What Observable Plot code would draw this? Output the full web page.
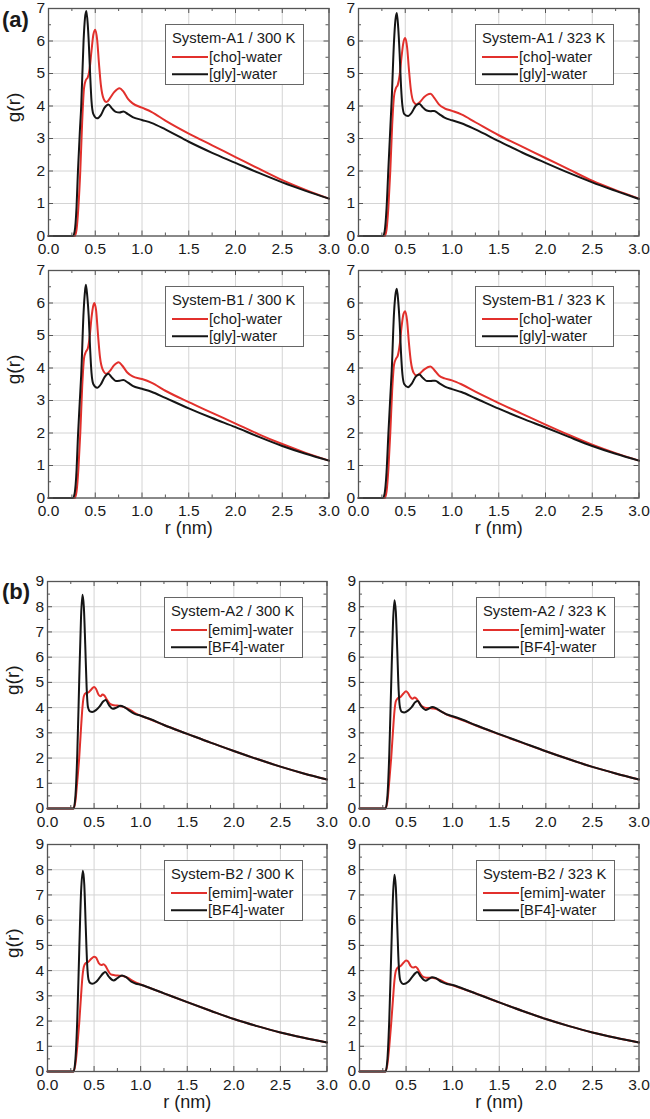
<!DOCTYPE html>
<html>
<head>
<meta charset="utf-8">
<script src="https://cdn.jsdelivr.net/npm/d3@7"></script>
<script src="https://cdn.jsdelivr.net/npm/@observablehq/plot@0.6"></script>
<style>
  html, body { margin: 0; padding: 0; background: #fff; }
  #fig { position: relative; width: 650px; height: 1119px; overflow: hidden; background: #fff;
         font-family: "Liberation Sans", Arial, sans-serif; }
  #fig svg { position: absolute; }
  .tag { position: absolute; font-weight: bold; font-size: 22px; color: #1a1a1a; line-height: 1; }
</style>
</head>
<body>
<div id="fig"></div>
<script>
// ---- axis ticks ----
const xMajor = [0, 0.5, 1.0, 1.5, 2.0, 2.5, 3.0];
const xMinor = [0.25, 0.75, 1.25, 1.75, 2.25, 2.75];
const yMajorA = [0, 1, 2, 3, 4, 5, 6, 7];
const yMinorA = [0.5, 1.5, 2.5, 3.5, 4.5, 5.5, 6.5];
const yMajorB = [0, 1, 2, 3, 4, 5, 6, 7, 8, 9];
const yMinorB = [0.5, 1.5, 2.5, 3.5, 4.5, 5.5, 6.5, 7.5, 8.5];

// ---- legend texts ----
const titles = [
  "System-A1 / 300 K", "System-A1 / 323 K", "System-B1 / 300 K", "System-B1 / 323 K",
  "System-A2 / 300 K", "System-A2 / 323 K", "System-B2 / 300 K", "System-B2 / 323 K"
];
const pairNamesA = ["[cho]-water", "[gly]-water"];
const pairNamesB = ["[emim]-water", "[BF4]-water"];

// ---- g(r) series: [r (nm), g(r)] ----
const A1_300_cho = [[0,0],[0.28,0],[0.30,0.2],[0.32,0.9],[0.34,2.0],[0.36,3.5],[0.38,4.55],[0.40,4.8],[0.42,4.88],[0.44,5.15],[0.46,5.7],[0.48,6.2],[0.50,6.35],[0.52,6.05],[0.54,5.3],[0.56,4.65],[0.59,4.22],[0.62,4.12],[0.66,4.25],[0.70,4.42],[0.76,4.55],[0.80,4.45],[0.85,4.22],[0.90,4.08],[1.0,3.95],[1.1,3.82],[1.25,3.55],[1.5,3.15],[1.75,2.79],[2.0,2.43],[2.25,2.07],[2.5,1.72],[2.75,1.42],[3.0,1.15]];
const A1_300_gly = [[0,0],[0.26,0],[0.28,0.15],[0.30,0.9],[0.315,2.0],[0.335,3.2],[0.35,4.0],[0.375,6.0],[0.39,6.7],[0.405,6.92],[0.42,6.5],[0.43,6.0],[0.445,5.0],[0.46,4.15],[0.48,3.75],[0.52,3.62],[0.56,3.72],[0.60,3.95],[0.64,4.05],[0.68,3.92],[0.72,3.82],[0.76,3.8],[0.80,3.83],[0.85,3.75],[0.90,3.66],[1.0,3.57],[1.1,3.48],[1.25,3.28],[1.5,2.9],[1.75,2.56],[2.0,2.25],[2.25,1.94],[2.5,1.65],[2.75,1.39],[3.0,1.15]];
const A1_323_cho = [[0,0],[0.28,0],[0.30,0.2],[0.32,0.9],[0.34,2.0],[0.36,3.4],[0.38,4.3],[0.40,4.55],[0.42,4.65],[0.44,4.95],[0.46,5.5],[0.48,5.95],[0.50,6.09],[0.52,5.8],[0.54,5.1],[0.56,4.5],[0.59,4.12],[0.62,4.05],[0.66,4.13],[0.70,4.27],[0.77,4.38],[0.81,4.25],[0.86,4.05],[0.92,3.93],[1.0,3.85],[1.1,3.74],[1.25,3.5],[1.5,3.1],[1.75,2.75],[2.0,2.4],[2.25,2.05],[2.5,1.7],[2.75,1.41],[3.0,1.15]];
const A1_323_gly = [[0,0],[0.26,0],[0.28,0.15],[0.30,0.85],[0.32,2.1],[0.34,3.3],[0.355,4.2],[0.38,6.0],[0.395,6.65],[0.41,6.86],[0.425,6.4],[0.44,5.6],[0.455,4.6],[0.47,4.0],[0.49,3.75],[0.53,3.69],[0.57,3.8],[0.61,4.0],[0.65,4.07],[0.69,3.95],[0.73,3.86],[0.77,3.84],[0.81,3.85],[0.86,3.76],[0.92,3.64],[1.0,3.56],[1.1,3.47],[1.25,3.28],[1.5,2.92],[1.75,2.57],[2.0,2.25],[2.25,1.94],[2.5,1.65],[2.75,1.39],[3.0,1.14]];
const B1_300_cho = [[0,0],[0.28,0],[0.30,0.2],[0.32,0.9],[0.34,2.0],[0.36,3.4],[0.38,4.3],[0.40,4.5],[0.42,4.6],[0.44,4.95],[0.46,5.55],[0.48,5.93],[0.49,6.0],[0.51,5.75],[0.53,5.0],[0.55,4.35],[0.58,3.95],[0.62,3.82],[0.66,3.92],[0.70,4.08],[0.75,4.18],[0.79,4.07],[0.84,3.87],[0.90,3.74],[1.0,3.66],[1.1,3.55],[1.25,3.3],[1.5,2.95],[1.75,2.62],[2.0,2.29],[2.25,1.96],[2.5,1.66],[2.75,1.39],[3.0,1.15]];
const B1_300_gly = [[0,0],[0.26,0],[0.28,0.15],[0.30,0.85],[0.315,1.9],[0.335,3.0],[0.35,3.8],[0.375,5.7],[0.39,6.35],[0.40,6.56],[0.415,6.2],[0.43,5.6],[0.445,4.6],[0.46,3.85],[0.48,3.5],[0.52,3.39],[0.56,3.5],[0.60,3.72],[0.64,3.82],[0.68,3.7],[0.72,3.6],[0.76,3.61],[0.80,3.63],[0.85,3.55],[0.90,3.45],[1.0,3.36],[1.1,3.27],[1.25,3.08],[1.5,2.76],[1.75,2.46],[2.0,2.18],[2.25,1.88],[2.5,1.6],[2.75,1.36],[3.0,1.15]];
const B1_323_cho = [[0,0],[0.28,0],[0.30,0.2],[0.32,0.9],[0.34,2.0],[0.36,3.3],[0.38,4.1],[0.40,4.28],[0.42,4.38],[0.44,4.7],[0.46,5.25],[0.48,5.65],[0.50,5.75],[0.52,5.45],[0.54,4.75],[0.56,4.2],[0.59,3.85],[0.62,3.77],[0.66,3.84],[0.70,3.95],[0.77,4.05],[0.81,3.94],[0.86,3.77],[0.92,3.68],[1.0,3.62],[1.1,3.5],[1.25,3.27],[1.5,2.92],[1.75,2.59],[2.0,2.26],[2.25,1.94],[2.5,1.64],[2.75,1.38],[3.0,1.15]];
const B1_323_gly = [[0,0],[0.26,0],[0.28,0.15],[0.30,0.8],[0.32,2.0],[0.34,3.1],[0.355,3.9],[0.38,5.7],[0.395,6.25],[0.41,6.44],[0.425,6.05],[0.44,5.4],[0.455,4.45],[0.47,3.8],[0.49,3.5],[0.53,3.41],[0.57,3.52],[0.61,3.73],[0.65,3.8],[0.69,3.69],[0.73,3.6],[0.77,3.6],[0.82,3.61],[0.87,3.52],[0.93,3.42],[1.0,3.35],[1.1,3.26],[1.25,3.07],[1.5,2.75],[1.75,2.45],[2.0,2.17],[2.25,1.88],[2.5,1.6],[2.75,1.36],[3.0,1.15]];
const A2_300_emim = [[0,0],[0.28,0],[0.30,0.3],[0.32,1.1],[0.34,2.0],[0.36,3.2],[0.375,4.0],[0.39,4.45],[0.41,4.57],[0.44,4.6],[0.47,4.72],[0.50,4.82],[0.52,4.75],[0.55,4.5],[0.57,4.45],[0.59,4.52],[0.61,4.48],[0.64,4.3],[0.67,4.15],[0.70,4.1],[0.75,4.08],[0.80,4.04],[0.85,3.98],[0.90,3.88],[0.95,3.76],[1.0,3.68],[1.1,3.54],[1.25,3.31],[1.5,2.96],[1.75,2.61],[2.0,2.28],[2.25,1.96],[2.5,1.66],[2.75,1.39],[3.0,1.15]];
const A2_300_bf4 = [[0,0],[0.28,0],[0.30,0.5],[0.32,2.2],[0.34,5.0],[0.36,7.6],[0.375,8.47],[0.39,8.0],[0.405,6.5],[0.42,4.8],[0.435,4.0],[0.455,3.85],[0.48,3.83],[0.52,3.9],[0.56,4.05],[0.60,4.25],[0.625,4.3],[0.66,4.1],[0.70,3.95],[0.74,4.0],[0.78,4.07],[0.82,4.03],[0.87,3.9],[0.93,3.76],[1.0,3.68],[1.1,3.55],[1.25,3.31],[1.5,2.96],[1.75,2.61],[2.0,2.28],[2.25,1.96],[2.5,1.66],[2.75,1.39],[3.0,1.15]];
const A2_323_emim = [[0,0],[0.28,0],[0.30,0.3],[0.32,1.1],[0.34,2.0],[0.36,3.1],[0.375,3.85],[0.39,4.25],[0.41,4.37],[0.44,4.42],[0.47,4.55],[0.50,4.65],[0.52,4.58],[0.55,4.4],[0.57,4.35],[0.59,4.4],[0.61,4.36],[0.64,4.2],[0.67,4.05],[0.70,4.0],[0.75,3.98],[0.80,3.96],[0.85,3.9],[0.90,3.8],[0.95,3.7],[1.0,3.64],[1.1,3.51],[1.25,3.29],[1.5,2.94],[1.75,2.6],[2.0,2.27],[2.25,1.95],[2.5,1.65],[2.75,1.39],[3.0,1.15]];
const A2_323_bf4 = [[0,0],[0.28,0],[0.30,0.5],[0.32,2.2],[0.34,4.9],[0.36,7.4],[0.375,8.26],[0.39,7.8],[0.405,6.3],[0.42,4.7],[0.435,4.0],[0.455,3.83],[0.48,3.81],[0.52,3.88],[0.56,4.02],[0.60,4.22],[0.625,4.26],[0.66,4.07],[0.71,3.91],[0.745,3.96],[0.78,4.02],[0.82,3.98],[0.87,3.86],[0.93,3.74],[1.0,3.66],[1.1,3.53],[1.25,3.3],[1.5,2.95],[1.75,2.61],[2.0,2.27],[2.25,1.95],[2.5,1.65],[2.75,1.39],[3.0,1.15]];
const B2_300_emim = [[0,0],[0.28,0],[0.30,0.3],[0.32,1.0],[0.34,1.9],[0.36,3.0],[0.375,3.75],[0.39,4.15],[0.41,4.3],[0.44,4.35],[0.47,4.47],[0.50,4.55],[0.52,4.52],[0.55,4.3],[0.58,4.22],[0.60,4.25],[0.62,4.2],[0.65,4.0],[0.68,3.85],[0.72,3.82],[0.77,3.8],[0.82,3.78],[0.87,3.7],[0.92,3.58],[1.0,3.45],[1.1,3.31],[1.25,3.1],[1.5,2.75],[1.75,2.41],[2.0,2.08],[2.25,1.8],[2.5,1.55],[2.75,1.34],[3.0,1.15]];
const B2_300_bf4 = [[0,0],[0.28,0],[0.30,0.5],[0.32,2.1],[0.34,4.7],[0.36,7.1],[0.38,7.96],[0.395,7.4],[0.41,5.8],[0.425,4.3],[0.44,3.65],[0.46,3.5],[0.48,3.48],[0.52,3.55],[0.56,3.72],[0.60,3.9],[0.62,3.94],[0.66,3.75],[0.71,3.61],[0.75,3.7],[0.80,3.81],[0.84,3.75],[0.90,3.56],[0.95,3.48],[1.0,3.44],[1.1,3.31],[1.25,3.1],[1.5,2.75],[1.75,2.41],[2.0,2.08],[2.25,1.8],[2.5,1.55],[2.75,1.34],[3.0,1.15]];
const B2_323_emim = [[0,0],[0.28,0],[0.30,0.3],[0.32,1.0],[0.34,1.9],[0.36,2.9],[0.375,3.6],[0.39,3.98],[0.41,4.12],[0.44,4.18],[0.47,4.3],[0.50,4.4],[0.52,4.37],[0.55,4.18],[0.58,4.12],[0.60,4.15],[0.62,4.1],[0.65,3.9],[0.68,3.76],[0.72,3.72],[0.77,3.72],[0.82,3.69],[0.87,3.62],[0.92,3.52],[1.0,3.42],[1.1,3.29],[1.25,3.09],[1.5,2.74],[1.75,2.4],[2.0,2.08],[2.25,1.8],[2.5,1.55],[2.75,1.34],[3.0,1.15]];
const B2_323_bf4 = [[0,0],[0.28,0],[0.30,0.5],[0.32,2.1],[0.34,4.6],[0.36,7.0],[0.375,7.8],[0.39,7.3],[0.405,5.8],[0.42,4.3],[0.435,3.65],[0.455,3.5],[0.475,3.47],[0.52,3.55],[0.56,3.72],[0.60,3.9],[0.62,3.94],[0.66,3.75],[0.71,3.6],[0.745,3.67],[0.78,3.74],[0.82,3.7],[0.88,3.55],[0.94,3.47],[1.0,3.43],[1.1,3.3],[1.25,3.09],[1.5,2.74],[1.75,2.4],[2.0,2.08],[2.25,1.8],[2.5,1.55],[2.75,1.34],[3.0,1.15]];

const seriesPairs = [
  [A1_300_cho, A1_300_gly], [A1_323_cho, A1_323_gly],
  [B1_300_cho, B1_300_gly], [B1_323_cho, B1_323_gly],
  [A2_300_emim, A2_300_bf4], [A2_323_emim, A2_323_bf4],
  [B2_300_emim, B2_300_bf4], [B2_323_emim, B2_323_bf4]
];

// ---- styling / layout ----
const FONT = '"Liberation Sans", Arial, sans-serif';
const RED = "#e2302c";
const BLACK = "#151515";
const FRAME = "#555";
const GRID = "#d4d4d4";

const groups = [
  { tag: "(a)", tagTop: 9, yMax: 7, yMajor: yMajorA, yMinor: yMinorA, names: pairNamesA,
    rowsTop: [8, 270], colsLeft: [48, 358], fw: 280.5, fh: 227.5 },
  { tag: "(b)", tagTop: 581, yMax: 9, yMajor: yMajorB, yMinor: yMinorB, names: pairNamesB,
    rowsTop: [580.5, 843.5], colsLeft: [47, 359], fw: 279.5, fh: 227 }
];

const fig = document.getElementById("fig");

function legend(left, top, title, names) {
  const w = 139, h = 61;
  const svg = d3.create("svg")
    .attr("width", w).attr("height", h)
    .style("left", left + "px").style("top", top + "px")
    .style("font-family", FONT).style("font-size", "14.8px");
  svg.append("rect").attr("x", 0.5).attr("y", 0.5).attr("width", w - 1).attr("height", h - 1)
    .attr("fill", "#fff").attr("stroke", "#666").attr("stroke-width", 1);
  svg.append("text").attr("x", 7).attr("y", 19).attr("fill", "#1a1a1a").text(title);
  [RED, BLACK].forEach((c, i) => {
    const y = 33 + i * 17.3;
    svg.append("line").attr("x1", 7).attr("x2", 43).attr("y1", y).attr("y2", y)
      .attr("stroke", c).attr("stroke-width", 2);
    svg.append("text").attr("x", 44).attr("y", y + 5).attr("fill", "#1a1a1a").text(names[i]);
  });
  fig.append(svg.node());
}

function panel(g, row, col, idx) {
  const colX = col === 0 ? 0 : 330;
  const frameLeft = g.colsLeft[col], frameTop = g.rowsTop[row];
  const mL = frameLeft - colX, mT = 12, mR = 14, mB = 50;
  const { fw, fh } = g;
  const [cation, anion] = seriesPairs[idx];
  const marks = [
    Plot.gridX(xMajor, { stroke: GRID, strokeOpacity: 1, strokeWidth: 1 }),
    Plot.gridY(g.yMajor, { stroke: GRID, strokeOpacity: 1, strokeWidth: 1 }),
    Plot.line(cation, { x: d => d[0], y: d => d[1], stroke: RED, strokeWidth: 2, curve: "monotone-x" }),
    Plot.line(anion, { x: d => d[0], y: d => d[1], stroke: BLACK, strokeWidth: 2, curve: "monotone-x" }),
    Plot.frame({ stroke: FRAME, strokeWidth: 1.3 }),
    // inward ticks on all four sides
    Plot.tickX(xMajor, { x: d => d, insetTop: fh - 5, stroke: FRAME }),
    Plot.tickX(xMajor, { x: d => d, insetBottom: fh - 5, stroke: FRAME }),
    Plot.tickX(xMinor, { x: d => d, insetTop: fh - 3, stroke: FRAME }),
    Plot.tickX(xMinor, { x: d => d, insetBottom: fh - 3, stroke: FRAME }),
    Plot.tickY(g.yMajor, { y: d => d, insetRight: fw - 5, stroke: FRAME }),
    Plot.tickY(g.yMajor, { y: d => d, insetLeft: fw - 5, stroke: FRAME }),
    Plot.tickY(g.yMinor, { y: d => d, insetRight: fw - 3, stroke: FRAME }),
    Plot.tickY(g.yMinor, { y: d => d, insetLeft: fw - 3, stroke: FRAME }),
    Plot.axisX(xMajor, { tickSize: 0, tickPadding: 7, tickFormat: d3.format(".1f"), label: null, fontSize: 15.5 }),
    Plot.axisY(g.yMajor, { tickSize: 0, tickPadding: 3.5, tickFormat: d3.format("d"), label: null, fontSize: 15.5 })
  ];
  if (col === 0) marks.push(Plot.text(["g(r)"], { frameAnchor: "left", dx: -35, rotate: -90, fontSize: 19, fill: "#1a1a1a" }));
  if (row === 1) marks.push(Plot.text(["r (nm)"], { frameAnchor: "bottom", dy: 36, fontSize: 18, fill: "#1a1a1a" }));

  const chart = Plot.plot({
    width: mL + fw + mR, height: mT + fh + mB,
    marginLeft: mL, marginRight: mR, marginTop: mT, marginBottom: mB,
    x: { domain: [0, 3] },
    y: { domain: [0, g.yMax] },
    style: { background: "transparent", fontFamily: FONT, fontSize: "15.5px", color: "#1a1a1a", overflow: "visible" },
    marks
  });
  chart.style.left = colX + "px";
  chart.style.top = (frameTop - mT) + "px";
  fig.append(chart);

  legend(frameLeft + 117, frameTop + 16, titles[idx], g.names);
}

groups.forEach((g, gi) => {
  [0, 1].forEach(row => [0, 1].forEach(col => panel(g, row, col, gi * 4 + row * 2 + col)));
  const tag = document.createElement("div");
  tag.className = "tag";
  tag.style.left = "2px";
  tag.style.top = g.tagTop + "px";
  tag.style.fontFamily = FONT;
  tag.textContent = g.tag;
  fig.append(tag);
});
</script>
</body>
</html>
